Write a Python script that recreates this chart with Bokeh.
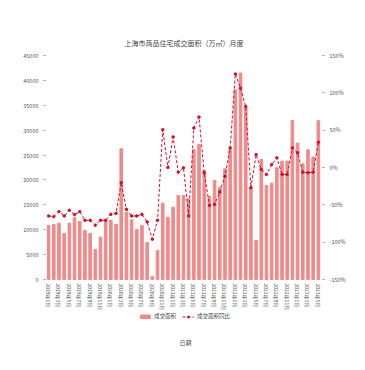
import math
from bokeh.plotting import figure
from bokeh.models import (Range1d, LinearAxis, FixedTicker, Legend, LegendItem, Label,
                          ColumnDataSource)
from bokeh.core.properties import value
from bokeh.embed import file_html
from bokeh.resources import INLINE

months = []
for y in range(2019, 2024):
    for m in range(1, 13):
        months.append(f"{y}年{m}月")
months = months[:53]

area = [10850, 11050, 11320, 9250, 11320, 12400, 11660, 9850, 9250, 6030,
        8500, 11860, 11860, 11050, 26270, 13530, 12000, 10050, 10850, 7440,
        600, 5830, 15340, 12520, 14530, 16880, 16880, 16220, 26070, 27140,
        21900, 16680, 19900, 18550, 22250, 26070, 38130, 41470, 34630, 18550,
        7840, 24120, 18890, 19360, 22440, 23780, 23780, 31960, 27400, 23250,
        26070, 24590, 31960]

yoy = [-64.9, -65.8, -59.1, -64.9, -57.3, -63.1, -59.1, -70.7, -70.7, -77.3,
       -70.7, -70.7, -62.7, -61.3, -20.4, -56.0, -64.9, -64.9, -62.7, -72.9,
       -96.0, -70.7, 50.7, 0.0, 40.9, -6.2, -0.4, -64.9, 52.9, 67.6,
       -7.1, -50.7, -49.3, -32.9, -11.6, 26.2, 125.3, 106.2, 81.8, -27.1,
       17.3, -2.7, -9.3, 4.0, 12.9, -9.3, -9.3, 26.2, 19.6, -6.2,
       -7.1, -6.2, 33.8]

left_ticks = [0, 5000, 10000, 15000, 20000, 25000, 30000, 35000, 40000, 45000]
right_ticks = [-150, -100, -50, 0, 50, 100, 150]

FONT = "Noto Sans CJK SC"
BAR = "#f08a8a"
LINE = "#d0102a"

# plot geometry: 224 px for the value span, 73 px extra below for labels/legend
PLOT_PX = 224
EXTRA_PX = 73
L_MAX = 45000
L_MIN = -EXTRA_PX * L_MAX / PLOT_PX
R_LO, R_HI = -150, 150
R_MIN = R_LO - EXTRA_PX * (R_HI - R_LO) / PLOT_PX

idx = list(range(len(months)))
src = ColumnDataSource(dict(x=idx, area=area, yoy=yoy, month=months))
lab_idx = idx[::2]
lab_src = ColumnDataSource(dict(x=lab_idx, y=[L_MAX / PLOT_PX * -4] * len(lab_idx),
                                t=[months[i] for i in lab_idx]))

p = figure(frame_width=277, frame_height=PLOT_PX + EXTRA_PX, output_backend="svg",
           toolbar_location=None,
           x_range=Range1d(-0.6, len(months) - 0.2), y_range=Range1d(L_MIN, L_MAX),
           min_border_left=45, min_border_right=43, min_border_top=55, min_border_bottom=2)
p.title.text = "上海市商品住宅成交面积（万㎡）月度"
p.title.align = "center"
p.title.text_font = FONT
p.title.text_font_size = "7px"
p.title.text_font_style = "normal"
p.title.text_color = "#444444"
p.title.standoff = 16

p.extra_y_ranges = {"pct": Range1d(R_MIN, R_HI)}

bars = p.vbar(x="x", top="area", width=0.5, source=src, color=BAR)
ln = p.line(x="x", y="yoy", source=src, y_range_name="pct", color=LINE,
            line_width=1, line_dash="3 2")
mk = p.scatter(x="x", y="yoy", source=src, y_range_name="pct", color=LINE,
               size=2.5, marker="circle")

# month labels (rotated, top-to-bottom)
p.text(x="x", y="y", text="t", source=lab_src, angle=-math.pi / 2,
       text_align="left", text_baseline="middle", text_font=value(FONT),
       text_font_size="5px", text_color="#555555")

p.xgrid.visible = False
p.ygrid.visible = False
p.outline_line_color = None
p.xaxis.visible = False

# left axis
ya = p.yaxis[0]
ya.ticker = FixedTicker(ticks=left_ticks)
ya.major_label_text_font = FONT
ya.major_label_text_font_size = "5.5px"
ya.major_label_text_color = "#555555"
ya.axis_line_color = None
ya.major_tick_line_color = "#999999"
ya.major_tick_in = 0
ya.major_tick_out = 2
ya.minor_tick_line_color = None

# right axis
ra = LinearAxis(y_range_name="pct", ticker=FixedTicker(ticks=right_ticks))
ra.major_label_overrides = {t: f"{t}%" for t in right_ticks}
ra.major_label_text_font = FONT
ra.major_label_text_font_size = "5.5px"
ra.major_label_text_color = "#555555"
ra.axis_line_color = None
ra.major_tick_line_color = "#999999"
ra.major_tick_in = 0
ra.major_tick_out = 2
ra.minor_tick_line_color = None
p.add_layout(ra, "right")

legend = Legend(items=[LegendItem(label="成交面积", renderers=[bars]),
                       LegendItem(label="成交面积同比", renderers=[ln, mk])],
                orientation="horizontal", location=(94, 32),
                label_text_font=FONT, label_text_font_size="5.5px",
                label_text_color="#444444", glyph_width=12, glyph_height=5,
                label_standoff=3, spacing=6, padding=1, margin=0,
                border_line_color=None, background_fill_alpha=0)
p.add_layout(legend)

xt = Label(x=140, y=10, x_units="screen", y_units="screen", text="日期",
           text_align="center", text_baseline="middle", text_font=FONT,
           text_font_size="6px", text_color="#555555")
p.add_layout(xt)

open("out.html", "w").write(file_html(p, INLINE))
